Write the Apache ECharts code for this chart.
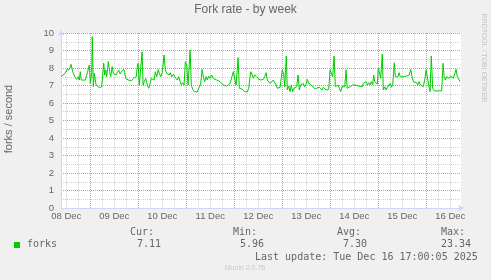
<!DOCTYPE html>
<html><head><meta charset="utf-8">
<script src="https://cdn.jsdelivr.net/npm/echarts@6/dist/echarts.min.js"></script>
<style>html,body{margin:0;padding:0;background:#f0f0f0}#c{width:491px;height:280px}</style>
</head><body><div id="c"></div>
<script>
const chartTitle = 'Fork rate - by week';
const yAxisName = 'forks / second';
const seriesName = 'forks';
// hours since 08 Dec 00:00
const hours = [
 9.4,10.2,11.4,12.2,13.0,13.5,14.4,15.2,16.2,17.2,18.0,18.5,19.0,19.5,20.5,21.5,22.2,22.9,23.5,24.0,
 24.7,25.0,25.5,26.0,26.9,27.5,28.5,29.7,30.2,30.7,31.2,31.7,32.2,33.0,33.7,34.2,34.9,35.5,36.2,36.9,
 37.5,38.2,38.9,39.5,40.2,40.7,41.2,41.7,42.2,43.0,43.9,44.7,45.5,46.4,47.0,47.5,47.9,48.5,49.0,49.9,
 50.4,51.0,51.7,52.5,53.2,53.9,54.5,55.2,55.9,56.5,57.2,58.0,58.5,59.2,59.9,
 60.9,61.5,62.2,62.7,63.4,64.0,64.7,65.5,66.2,66.9,67.5,68.2,68.9,69.5,70.2,70.9,71.5,72.2,72.9,73.9,
 74.5,75.2,76.0,76.9,77.5,78.5,79.2,79.9,80.5,81.2,81.9,82.5,83.2,83.9,84.7,85.5,86.4,87.2,88.0,88.9,
 89.7,90.5,91.4,92.2,93.0,93.9,94.7,95.5,96.2,96.9,97.9,98.5,99.2,100.2,101.2,101.9,102.5,103.2,104.2,104.9,
 105.5,106.2,107.2,108.0,108.9,109.9,
 110.5,111.2,111.9,112.5,113.2,113.9,114.7,115.5,116.2,116.9,117.5,118.2,118.9,119.5,120.0,120.7,121.2,122.0,122.5,123.2,
 123.9,124.5,125.2,125.9,126.5,127.2,127.9,128.5,129.2,129.9,130.5,131.2,131.9,132.5,133.2,133.9,134.5,135.2,135.9,136.5,
 137.2,137.9,138.5,139.2,139.9,140.5,141.2,141.9,142.5,143.2,143.9,144.5,145.2,145.9,146.5,147.2,147.9,148.5,149.2,149.9,
 150.5,151.2,151.9,152.4,153.2,153.9,154.5,155.2,155.9,156.5,157.2,158.0,158.9,159.9,
 160.5,161.2,161.9,162.5,163.2,163.9,164.5,165.2,165.7,166.2,166.9,167.5,168.0,168.5,169.2,170.0,170.5,171.2,171.9,172.5,
 173.2,173.9,174.5,175.2,176.0,176.5,177.2,177.9,178.4,179.0,179.7,180.5,181.4,182.2,183.0,183.5,184.2,184.9,185.5,186.4,
 187.2,187.7,188.4,189.0,189.7,190.5,191.2,191.9,192.5,193.2,193.9,194.5,195.2,195.9,196.5,198.0,199.7,200.4,200.9,201.5,
 202.2,202.9,203.5,204.2,204.9,205.5,206.2,206.9,207.5,208.2,208.9
];
const forks = [
 7.50,7.54,7.70,7.89,7.85,7.92,8.21,7.79,7.50,7.35,7.50,7.31,7.79,7.31,7.41,7.31,7.41,7.89,8.17,7.12,
 7.70,9.79,6.93,7.70,7.03,6.93,6.88,6.93,6.90,8.27,7.60,7.89,7.50,8.36,7.79,7.50,8.08,7.70,7.79,7.60,
 7.73,7.89,7.66,7.79,7.70,7.92,7.73,7.41,7.50,7.31,7.35,7.28,7.41,7.31,7.50,8.08,8.27,7.03,6.93,8.93,
 7.03,7.22,7.41,7.03,6.84,7.12,7.41,7.50,7.31,7.79,7.50,7.92,7.70,7.50,7.70,
 8.74,7.89,7.70,7.79,7.60,7.73,7.50,7.64,7.50,7.41,7.31,7.50,7.22,7.03,7.16,7.03,8.36,8.17,7.03,9.03,
 7.03,6.78,6.65,6.70,6.63,6.90,7.09,7.92,7.50,7.22,7.50,7.31,7.54,7.41,7.60,7.41,7.50,7.31,7.41,7.22,
 7.12,7.03,7.12,6.97,7.07,7.12,7.03,7.79,7.89,7.03,8.60,6.84,6.74,6.78,6.65,6.74,6.63,6.84,7.79,7.60,
 7.41,7.60,7.50,7.41,7.31,7.35,
 7.35,7.50,7.73,7.31,7.41,7.12,7.07,7.31,7.22,7.03,6.84,6.80,6.90,6.84,7.89,7.66,6.93,8.69,6.74,6.97,
 6.65,7.03,6.65,6.84,6.74,6.93,7.60,6.74,7.03,6.93,7.12,6.93,7.07,7.35,7.12,7.22,7.03,7.12,6.84,6.93,
 6.84,6.78,6.90,6.84,6.74,6.90,6.84,6.74,6.84,6.78,7.89,7.79,7.50,8.69,6.93,6.84,7.03,6.84,6.65,6.93,
 6.84,6.93,7.89,6.84,6.78,6.93,6.84,7.03,7.12,7.03,7.09,6.97,7.03,6.93,
 7.12,7.03,7.22,7.03,7.16,7.03,7.22,7.03,7.60,7.22,7.16,7.09,7.98,7.79,7.41,8.80,6.74,6.93,6.74,6.90,
 6.84,7.12,6.90,7.03,8.30,7.50,7.60,7.50,7.73,7.50,7.41,7.50,7.41,7.54,7.50,7.60,7.92,7.50,7.22,7.12,
 7.16,7.03,7.22,7.03,7.12,6.93,7.31,7.89,7.50,7.03,6.65,8.69,6.84,6.70,6.69,6.69,6.70,8.27,7.50,7.31,
 7.50,7.54,7.41,7.54,7.47,7.41,7.50,7.92,7.50,7.41,7.22
];
const dayLabels = ['08 Dec','09 Dec','10 Dec','11 Dec','12 Dec','13 Dec','14 Dec','15 Dec','16 Dec'];
const legendHeaders = ['Cur:','Min:','Avg:','Max:'];
const legendValues = ['7.11','5.96','7.30','23.34'];
const lastUpdate = 'Last update: Tue Dec 16 17:00:05 2025';
const footer = 'Munin 2.0.76';
const watermark = 'RRDTOOL / TOBI OETIKER';

const startHour = 9.35, endHour = 209.35;
const noonHours = dayLabels.map((d, i) => 12 + 24 * i);
// grid every 6 hours, starting at 08 Dec 12:00 -> colours cycle gray, gray, red(midnight), gray
const gridHours = [];
for (let h = 12; h < endHour; h += 6) gridHours.push(h);
const pairs = hours.map((h, i) => [h, forks[i]]);

const FONT = 'Liberation Sans';
const MONO = 'DejaVu Sans Mono';
const TXT = '#666666';
const AXIS = '#CFD6F8';
const MGRID = '#ff8282';
const GRID = '#d2d2d2';

const headerX = [130, 233, 337, 441];
const valueX = [137, 240, 343, 441];
const graphic = [
  {type:'text', x:9, y:119, rotation:Math.PI/2, style:{text:yAxisName, fontFamily:FONT, fontSize:11, fill:TXT, align:'center', verticalAlign:'middle'}},
  {type:'text', x:484, y:58, rotation:-Math.PI/2, style:{text:watermark, fontFamily:FONT, fontSize:7, fill:'#c4c4c4', align:'center', verticalAlign:'middle'}},
  {type:'rect', shape:{x:14, y:242, width:6, height:6}, style:{fill:'#00cc00'}},
  {type:'text', x:27, y:244.5, style:{text:seriesName, fontFamily:MONO, fontSize:10, fill:TXT, align:'left', verticalAlign:'middle'}},
  {type:'text', x:255, y:257, style:{text:lastUpdate, fontFamily:MONO, fontSize:10, fill:TXT, align:'left', verticalAlign:'middle'}},
  {type:'text', x:245, y:268.5, style:{text:footer, fontFamily:FONT, fontSize:7, fill:'#c8c8c8', align:'center', verticalAlign:'middle'}}
];
legendHeaders.forEach((t, i) => graphic.push({type:'text', x:headerX[i], y:232.5, style:{text:t, fontFamily:MONO, fontSize:10, fill:TXT, align:'left', verticalAlign:'middle'}}));
legendValues.forEach((t, i) => graphic.push({type:'text', x:valueX[i], y:244.5, style:{text:t, fontFamily:MONO, fontSize:10, fill:TXT, align:'left', verticalAlign:'middle'}}));

const chart = echarts.init(document.getElementById('c'), null, {renderer:'canvas'});
chart.setOption({
  animation:false,
  backgroundColor:'#f0f0f0',
  title:{text:chartTitle, left:'center', top:4, padding:0, textStyle:{fontFamily:FONT, fontSize:12, fontWeight:'normal', color:TXT}},
  grid:{left:61, top:33, width:400, height:175, show:true, backgroundColor:'#ffffff', borderWidth:0, containLabel:false},
  xAxis:{type:'value', min:startHour, max:endHour, position:'bottom', z:3,
     axisLine:{show:true, lineStyle:{color:AXIS, width:1}, symbol:['none','arrow'], symbolSize:[5,6], symbolOffset:[0,3]},
     axisTick:{show:false, customValues:gridHours},
     axisLabel:{show:true, customValues:noonHours, formatter:v => dayLabels[Math.round((v - 12) / 24)], fontFamily:FONT, fontSize:9.5, color:TXT, margin:3, hideOverlap:false},
     splitLine:{show:true, lineStyle:{color:[GRID, GRID, MGRID, GRID], type:[1,1], width:1}}},
  yAxis:{type:'value', min:0, max:10, interval:0.5, z:3,
    axisLine:{show:true, lineStyle:{color:AXIS, width:1}, symbol:['none','arrow'], symbolSize:[5,6], symbolOffset:[0,3]},
    axisTick:{show:false},
    axisLabel:{formatter:v => Number.isInteger(v) ? String(v) : '', fontFamily:FONT, fontSize:9.5, color:TXT, margin:7},
    splitLine:{show:true, lineStyle:{color:[MGRID, GRID], type:[1,1], width:1}}},
  series:[{type:'line', name:seriesName, data:pairs, showSymbol:false, symbol:'none', z:5,
    lineStyle:{color:'#00cc00', width:1}, itemStyle:{color:'#00cc00'}}],
  graphic:graphic
});
</script></body></html>
